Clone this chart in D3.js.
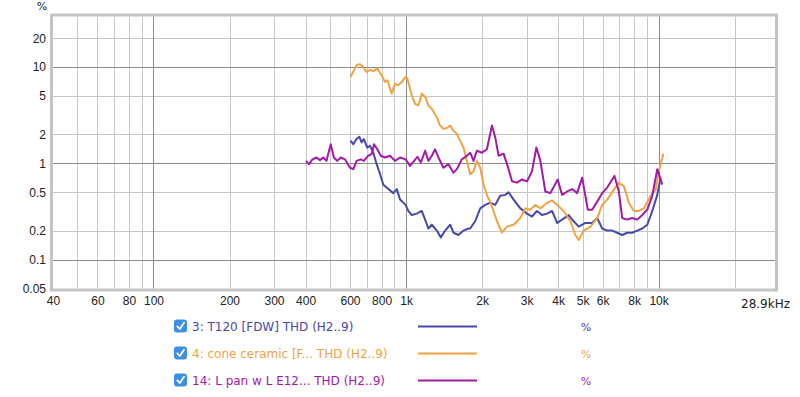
<!doctype html>
<html lang='en'>
  <head>
    <meta charset='utf-8' />
    <style>
      * { padding: 0; margin: 0; }
      body { background: #fff; }
      svg { display: block; font-family: 'Lucida Grande', 'DejaVu Sans', sans-serif; }
    </style>
  </head>
  <body>
    <div id='container'></div>
    <script src='https://d3js.org/d3.v7.min.js'></script>
    <script type='text/javascript'>

      // T120 [FDW] THD
      var blueFreq = [603,618,637,653,667,681,702,720,742,765,789,813,851,890,919,947,996,1021,1053,1103,1154,1190,1226,1265,1324,1373,1428,1495,1541,1612,1688,1767,1795,1878,1967,2058,2154,2255,2360,2471,2547,2666,2835,3013,3154,3301,3455,3617,3786,3963,4148,4406,4612,4827,5132,5456,5712,5978,6258,6551,6857,7178,7510,7865,8231,8617,9021,9441,9881,10180];
      var blueVal  = [1.72,1.58,1.79,1.89,1.65,1.79,1.46,1.52,1.29,0.98,0.77,0.60,0.54,0.49,0.54,0.42,0.37,0.32,0.29,0.30,0.32,0.26,0.21,0.23,0.20,0.17,0.20,0.23,0.19,0.18,0.20,0.21,0.21,0.25,0.34,0.37,0.39,0.37,0.46,0.47,0.50,0.42,0.34,0.30,0.28,0.32,0.29,0.30,0.32,0.24,0.26,0.29,0.25,0.22,0.24,0.24,0.27,0.21,0.20,0.20,0.19,0.18,0.19,0.19,0.20,0.21,0.23,0.32,0.47,0.71];

      // cone ceramic THD
      var orangeFreq = [603,637,657,675,698,720,742,769,801,825,843,878,904,932,961,996,1012,1053,1086,1119,1154,1190,1226,1265,1324,1364,1406,1451,1495,1541,1589,1637,1688,1741,1795,1850,1908,1967,2026,2102,2154,2291,2398,2509,2666,2835,2967,3105,3250,3402,3617,3786,3963,4209,4475,4684,4827,5053,5372,5712,5978,6258,6646,6958,7284,7625,7980,8353,8744,9296,9730,10030,10440];
      var orangeVal  = [7.9,10.5,10.7,10.1,8.9,9.4,9.1,9.7,8.2,7.0,7.3,5.3,6.7,6.5,7.0,7.9,7.6,5.1,4.16,4.0,5.3,4.9,4.0,3.7,3.0,2.47,2.28,2.33,2.47,2.19,2.02,1.72,1.46,1.06,0.77,0.83,1.06,0.90,0.60,0.45,0.40,0.25,0.19,0.22,0.23,0.27,0.34,0.33,0.37,0.34,0.39,0.41,0.37,0.32,0.25,0.18,0.16,0.20,0.22,0.27,0.37,0.42,0.53,0.63,0.58,0.39,0.32,0.32,0.34,0.46,0.53,0.83,1.26];

      // L pan w L E12 THD
      var purpleFreq = [401,413,426,442,456,470,484,503,518,534,551,573,600,618,637,661,681,709,731,747,769,794,825,864,904,947,996,1037,1076,1109,1144,1190,1226,1265,1303,1344,1406,1472,1541,1589,1663,1741,1795,1850,1908,1997,2090,2189,2255,2325,2433,2547,2627,2750,2878,3013,3154,3281,3402,3561,3728,3985,4148,4343,4546,4758,4981,5243,5456,5712,5978,6258,6689,6958,7178,7510,7865,8231,8617,9021,9441,9881,10340];
      var purpleVal  = [1.06,0.98,1.10,1.15,1.08,1.15,1.06,1.58,1.15,1.06,1.15,1.10,0.90,0.87,1.06,1.10,1.06,1.20,1.25,1.58,1.40,1.20,1.15,1.20,1.06,1.15,1.10,0.94,1.06,1.17,1.02,1.35,1.06,1.20,1.40,1.15,0.90,0.98,0.80,0.87,1.10,1.20,1.29,1.06,1.35,1.29,1.40,2.47,1.86,1.20,1.26,0.87,0.65,0.63,0.68,0.65,0.83,1.46,1.06,0.51,0.49,0.68,0.47,0.51,0.54,0.49,0.71,0.33,0.33,0.40,0.49,0.56,0.74,0.51,0.27,0.26,0.27,0.26,0.29,0.33,0.46,0.87,0.60];

      var xTicks = [40,60,80,100,200,300,400,600,800,1000,2000,3000,4000,5000,6000,8000,10000];
      var xTickLabels = ['40','60','80','100','200','300','400','600','800','1k','2k','3k','4k','5k','6k','8k','10k'];
      var xMajor = [100,1000,10000];
      var xMinor = [50,60,70,80,90,200,300,400,500,600,700,800,900,2000,3000,4000,5000,6000,7000,8000,9000,20000];
      var yTicks = [20,10,5,2,1,0.5,0.2,0.1,0.05];
      var yMajor = [10,1,0.1];
      var yMinor = [20,5,2,0.5,0.2];

      var seriesNames = ['3: T120 [FDW] THD (H2..9)', '4: cone ceramic [F... THD (H2..9)', '14: L pan w L E12... THD (H2..9)'];
      var seriesColors = ['#4848aa', '#f0a244', '#a21aa8'];

      var svgW = 800, svgH = 397;
      var plotL = 53, plotR = 775, plotT = 16.5, plotB = 288.5;

      var svg = d3.select('#container').append('svg')
          .attr('width', svgW)
          .attr('height', svgH);

      var x = d3.scaleLog().domain([40, 28900]).range([plotL, plotR]);
      var y = d3.scaleLog().domain([0.05, 33.6]).range([plotB, plotT]);

      // frame
      svg.append('rect')
        .attr('x', plotL - 1.5).attr('y', plotT - 1.5)
        .attr('width', plotR - plotL + 3).attr('height', plotB - plotT + 3)
        .attr('fill', '#fff')
        .attr('stroke', '#c4c4c4')
        .attr('stroke-width', 3);

      var grid = svg.append('g');
      grid.selectAll('.xmin').data(xMinor).enter().append('line')
        .attr('x1', function(d) { return Math.round(x(d)) + 0.5; })
        .attr('x2', function(d) { return Math.round(x(d)) + 0.5; })
        .attr('y1', plotT).attr('y2', plotB)
        .attr('stroke', '#c6c6c6');
      grid.selectAll('.ymin').data(yMinor).enter().append('line')
        .attr('y1', function(d) { return Math.round(y(d)) + 0.5; })
        .attr('y2', function(d) { return Math.round(y(d)) + 0.5; })
        .attr('x1', plotL).attr('x2', plotR)
        .attr('stroke', '#c6c6c6');
      grid.selectAll('.xmaj').data(xMajor).enter().append('line')
        .attr('x1', function(d) { return Math.round(x(d)) + 0.5; })
        .attr('x2', function(d) { return Math.round(x(d)) + 0.5; })
        .attr('y1', plotT).attr('y2', plotB)
        .attr('stroke', '#8c8c8c');
      grid.selectAll('.ymaj').data(yMajor).enter().append('line')
        .attr('y1', function(d) { return Math.round(y(d)) + 0.5; })
        .attr('y2', function(d) { return Math.round(y(d)) + 0.5; })
        .attr('x1', plotL).attr('x2', plotR)
        .attr('stroke', '#8c8c8c');

      // axes labels
      var xAxis = d3.axisBottom(x)
        .tickValues(xTicks)
        .tickFormat(function(d, i) { return xTickLabels[i]; })
        .tickSize(0).tickPadding(8);
      var gx = svg.append('g').attr('transform', 'translate(0,' + plotB + ')').call(xAxis);
      gx.select('.domain').remove();
      gx.selectAll('text').attr('font-size', 12).attr('fill', '#222').style('font-family', null);
      svg.append('text')
        .attr('x', 790).attr('y', plotB + 19)
        .attr('text-anchor', 'end')
        .attr('font-size', 12).attr('fill', '#222')
        .text('28.9kHz');

      var yAxis = d3.axisLeft(y)
        .tickValues(yTicks)
        .tickFormat(function(d) { return String(d); })
        .tickSize(0).tickPadding(7);
      var gy = svg.append('g').attr('transform', 'translate(' + plotL + ',0)').call(yAxis);
      gy.select('.domain').remove();
      gy.selectAll('text').attr('font-size', 12).attr('fill', '#222').style('font-family', null);
      svg.append('text')
        .attr('x', 42).attr('y', 10)
        .attr('text-anchor', 'middle')
        .attr('font-size', 11).attr('fill', '#222')
        .text('%');

      // curves
      svg.append('clipPath').attr('id', 'clip')
        .append('rect').attr('x', plotL).attr('y', plotT)
        .attr('width', plotR - plotL).attr('height', plotB - plotT);

      var series = [
        { f: blueFreq, v: blueVal },
        { f: orangeFreq, v: orangeVal },
        { f: purpleFreq, v: purpleVal }
      ];
      var line = d3.line()
        .x(function(d) { return x(d[0]); })
        .y(function(d) { return y(d[1]); });

      svg.append('g').attr('clip-path', 'url(#clip)')
        .selectAll('path').data(series).enter().append('path')
        .attr('d', function(s) { return line(s.f.map(function(f, i) { return [f, s.v[i]]; })); })
        .attr('fill', 'none')
        .attr('stroke', function(s, i) { return seriesColors[i]; })
        .attr('stroke-width', 2)
        .attr('stroke-linejoin', 'round');

      // legend
      var rowY = [326, 353, 380];
      var legend = svg.selectAll('.leg').data(seriesNames).enter().append('g')
        .attr('transform', function(d, i) { return 'translate(0,' + rowY[i] + ')'; });
      legend.append('rect')
        .attr('x', 174).attr('y', -6.5).attr('width', 13).attr('height', 13)
        .attr('rx', 3).attr('fill', '#3d8fe6');
      legend.append('path')
        .attr('d', 'M177.3,0.3 L179.8,3 L184,-3.2')
        .attr('fill', 'none').attr('stroke', '#fff').attr('stroke-width', 1.8)
        .attr('stroke-linecap', 'round').attr('stroke-linejoin', 'round');
      legend.append('text')
        .attr('x', 192).attr('y', 4.5)
        .attr('font-size', 12)
        .attr('fill', function(d, i) { return seriesColors[i]; })
        .text(function(d) { return d; });
      legend.append('line')
        .attr('x1', 418).attr('x2', 477).attr('y1', 0.5).attr('y2', 0.5)
        .attr('stroke', function(d, i) { return seriesColors[i]; })
        .attr('stroke-width', 2);
      legend.append('text')
        .attr('x', 586).attr('y', 4.5)
        .attr('text-anchor', 'middle')
        .attr('font-size', 11)
        .attr('fill', function(d, i) { return seriesColors[i]; })
        .text('%');
    </script>
  </body>
</html>
